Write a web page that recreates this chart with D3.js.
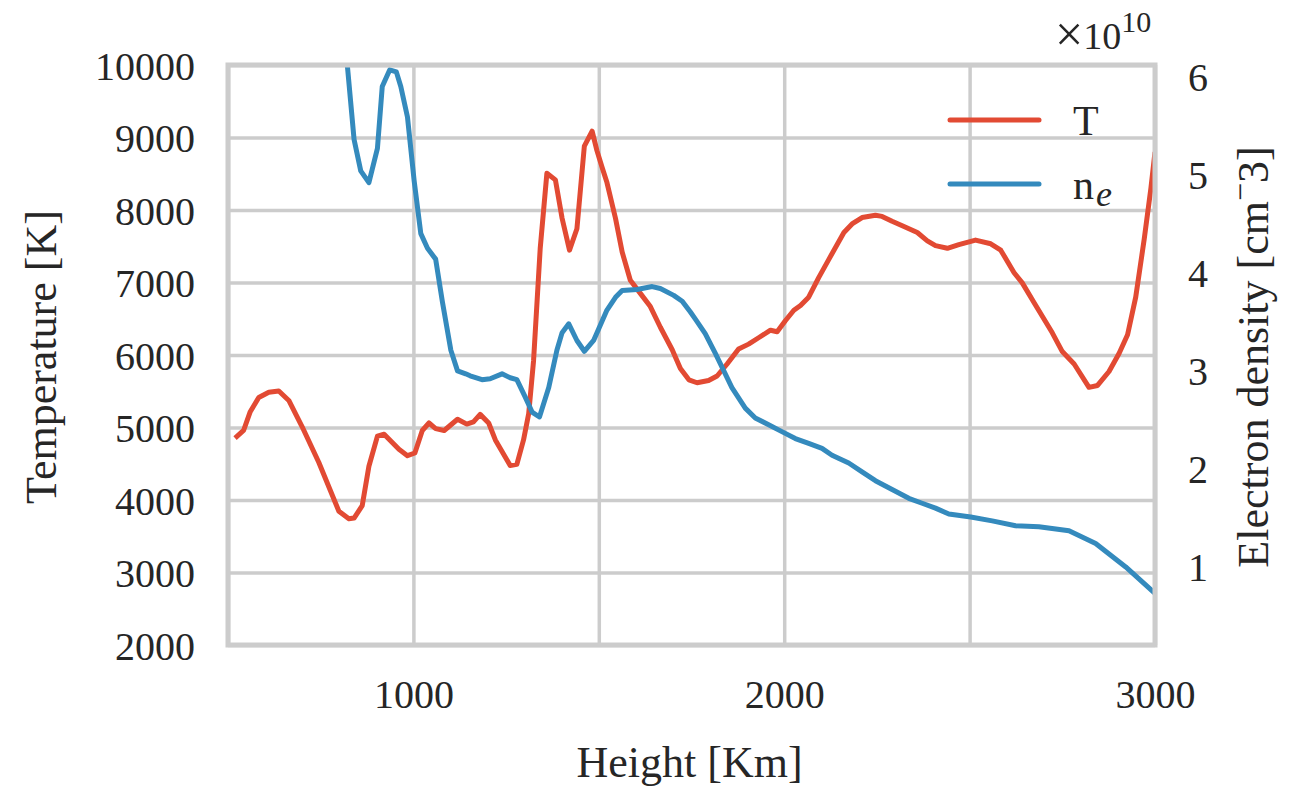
<!DOCTYPE html>
<html>
<head>
<meta charset="utf-8">
<script src="https://cdn.jsdelivr.net/npm/d3@7"></script>
<style>
  body { margin: 0; background: #fff; }
  svg { display: block; }
  text { font-family: "Liberation Serif", "DejaVu Serif", serif; fill: #262626; }
</style>
</head>
<body>
<div id="chart"></div>
<script>
// temperature profile
const t_height = [
  519, 542, 560, 583, 610, 637, 664, 700, 745, 799,
  826, 840, 862, 880, 903, 921, 961, 984, 1004, 1024,
  1042, 1060, 1083, 1119, 1144, 1162, 1180, 1203, 1221, 1261,
  1279, 1297, 1311, 1324, 1342, 1360, 1383, 1401, 1421, 1441,
  1461, 1482, 1495, 1509, 1522, 1545, 1563, 1585, 1612, 1639,
  1666, 1698, 1720, 1743, 1765, 1796, 1819, 1846, 1877, 1904,
  1931, 1963, 1981, 2003, 2026, 2044, 2066, 2093, 2120, 2161,
  2183, 2210, 2246, 2264, 2291, 2323, 2359, 2386, 2408, 2440,
  2471, 2516, 2557, 2584, 2620, 2642, 2674, 2723, 2750, 2782,
  2822, 2845, 2876, 2903, 2926, 2948, 2971, 2989, 3000
]
const t_values = [
  4855, 4959, 5218, 5415, 5487, 5503, 5373, 5010, 4518, 3845,
  3741, 3751, 3922, 4466, 4881, 4907, 4699, 4611, 4648, 4959,
  5062, 4984, 4959, 5114, 5047, 5078, 5181, 5062, 4829, 4477,
  4492, 4829, 5192, 5917, 7472, 8508, 8415, 7886, 7446, 7741,
  8881, 9088, 8819, 8585, 8378, 7886, 7420, 7031, 6850, 6668,
  6383, 6073, 5813, 5658, 5617, 5648, 5710, 5876, 6083, 6150,
  6238, 6342, 6321, 6472, 6617, 6684, 6798, 7067, 7316, 7689,
  7808, 7896, 7927, 7912, 7845, 7772, 7689, 7575, 7508, 7472,
  7523, 7585, 7534, 7446, 7135, 6995, 6720, 6306, 6047, 5876,
  5554, 5580, 5772, 6021, 6280, 6798, 7601, 8301, 8800
]

// electron density, units of 1e10 cm^-3
const ne_height = [
  815, 822, 840, 858, 880, 903, 916, 936, 954, 966,
  984, 1002, 1020, 1038, 1060, 1078, 1101, 1119, 1141, 1153,
  1185, 1207, 1239, 1261, 1279, 1302, 1320, 1340, 1365, 1387,
  1401, 1419, 1441, 1461, 1486, 1522, 1545, 1563, 1603, 1644,
  1666, 1702, 1725, 1747, 1760, 1787, 1814, 1859, 1895, 1922,
  1958, 1999, 2030, 2066, 2102, 2129, 2174, 2210, 2246, 2291,
  2336, 2372, 2408, 2444, 2503, 2561, 2624, 2687, 2768, 2840,
  2921, 3000
]
const ne_values = [
  6.4, 6.11, 5.36, 5.04, 4.92, 5.27, 5.90, 6.07, 6.05, 5.90,
  5.59, 4.94, 4.40, 4.25, 4.14, 3.71, 3.21, 3.00, 2.97, 2.95,
  2.91, 2.92, 2.97, 2.93, 2.91, 2.73, 2.58, 2.53, 2.83, 3.21,
  3.39, 3.48, 3.31, 3.20, 3.31, 3.62, 3.75, 3.82, 3.83, 3.86,
  3.84, 3.77, 3.71, 3.60, 3.53, 3.38, 3.18, 2.83, 2.62, 2.52,
  2.45, 2.37, 2.31, 2.26, 2.21, 2.14, 2.06, 1.97, 1.88, 1.79,
  1.70, 1.65, 1.60, 1.54, 1.51, 1.47, 1.42, 1.41, 1.37, 1.24,
  1.00, 0.73
]

const x_grid = [500, 1000, 1500, 2000, 2500, 3000]
const x_labels = [1000, 2000, 3000]
const t_ticks = [2000, 3000, 4000, 5000, 6000, 7000, 8000, 9000, 10000]
const ne_ticks = [1, 2, 3, 4, 5, 6]

const red = '#E24A33'
const blue = '#348ABD'
const grid_col = '#cccccc'

const W = 1300, H = 787
const m_left = 228, m_right = 1155, m_top = 65, m_bottom = 645

const svg = d3.select('#chart').append('svg')
  .attr('width', W).attr('height', H)

const x = d3.scaleLinear().domain([500, 3000]).range([m_left, m_right])
const yT = d3.scaleLinear().domain([2000, 10000]).range([m_bottom, m_top])
const yN = d3.scaleLinear().domain([0.204, 6.12]).range([m_bottom, m_top])

svg.append('defs').append('clipPath').attr('id', 'plotclip')
  .append('rect')
  .attr('x', m_left).attr('y', m_top)
  .attr('width', m_right-m_left).attr('height', m_bottom-m_top)

// grid
svg.append('g')
  .attr('transform', `translate(0,${m_bottom})`)
  .call(d3.axisBottom(x).tickValues(x_grid).tickSize(-(m_bottom-m_top)).tickFormat(''))
  .call(g => g.select('.domain').remove())
  .call(g => g.selectAll('line').attr('stroke', grid_col).attr('stroke-width', 3.5))

svg.append('g')
  .attr('transform', `translate(${m_left},0)`)
  .call(d3.axisLeft(yT).tickValues(t_ticks).tickSize(-(m_right-m_left)).tickFormat(''))
  .call(g => g.select('.domain').remove())
  .call(g => g.selectAll('line').attr('stroke', grid_col).attr('stroke-width', 3.5))

// tick labels
let tick_font = g => g.selectAll('text')
  .style('font-size', '40px').style('font-family', '"Liberation Serif", serif')

svg.append('g')
  .attr('transform', `translate(0,${m_bottom})`)
  .call(d3.axisBottom(x).tickValues(x_labels).tickSize(0).tickPadding(0).tickFormat(d3.format('d')))
  .call(g => g.select('.domain').remove())
  .call(tick_font)
  .call(g => g.selectAll('text').attr('y', 49).attr('dy', '0.35em'))

svg.append('g')
  .attr('transform', `translate(${m_left},0)`)
  .call(d3.axisLeft(yT).tickValues(t_ticks).tickSize(0).tickPadding(33).tickFormat(d3.format('d')))
  .call(g => g.select('.domain').remove())
  .call(tick_font)
  .call(g => g.selectAll('text').attr('dy', '0.35em'))

svg.append('g')
  .attr('transform', `translate(${m_right},0)`)
  .call(d3.axisRight(yN).tickValues(ne_ticks).tickSize(0).tickPadding(33).tickFormat(d3.format('d')))
  .call(g => g.select('.domain').remove())
  .call(tick_font)
  .call(g => g.selectAll('text').attr('dy', '0.35em'))

// lines
let lineT = d3.line().x(d => x(d[0])).y(d => yT(d[1]))
let lineN = d3.line().x(d => x(d[0])).y(d => yN(d[1]))

let plot = svg.append('g').attr('clip-path', 'url(#plotclip)')
plot.append('path')
  .datum(d3.zip(t_height, t_values))
  .attr('d', lineT)
  .attr('fill', 'none')
  .attr('stroke', red)
  .attr('stroke-width', 5)
  .attr('stroke-linejoin', 'round')
plot.append('path')
  .datum(d3.zip(ne_height, ne_values))
  .attr('d', lineN)
  .attr('fill', 'none')
  .attr('stroke', blue)
  .attr('stroke-width', 5)
  .attr('stroke-linejoin', 'round')

// frame
svg.append('rect')
  .attr('x', m_left).attr('y', m_top)
  .attr('width', m_right-m_left).attr('height', m_bottom-m_top)
  .attr('fill', 'none')
  .attr('stroke', grid_col)
  .attr('stroke-width', 5)

// axis labels
svg.append('text')
  .attr('x', (m_left+m_right)/2 - 2).attr('y', 777)
  .attr('text-anchor', 'middle')
  .style('font-size', '44px')
  .text('Height [Km]')

svg.append('text')
  .attr('transform', `translate(56,${(m_top+m_bottom)/2 + 2}) rotate(-90)`)
  .attr('text-anchor', 'middle')
  .style('font-size', '44px')
  .text('Temperature [K]')

let rlab = svg.append('text')
  .attr('transform', `translate(1268,${(m_top+m_bottom)/2 + 2}) rotate(-90)`)
  .attr('text-anchor', 'middle')
  .style('font-size', '44px')
rlab.append('tspan').text('Electron density [cm')
rlab.append('tspan').attr('dy', -17).style('font-size', '32px').text('\u2212')
rlab.append('tspan').attr('dy', 17).text('3]')

// offset text
let off = svg.append('text')
  .attr('x', 1055).attr('y', 49)
  .style('font-size', '38px')
off.append('tspan').style('font-size', '50px').attr('dy', 2).text('\u00d7')
off.append('tspan').attr('dy', -2).text('10')
off.append('tspan').attr('dy', -17).style('font-size', '30px').text('10')

// legend
const legend_items = [
  {label: 'T', sub: null, color: red, y: 120},
  {label: 'n', sub: 'e', color: blue, y: 184}
]
let leg = svg.append('g')
legend_items.forEach(item => {
  leg.append('line')
    .attr('x1', 950).attr('x2', 1039)
    .attr('y1', item.y).attr('y2', item.y)
    .attr('stroke', item.color)
    .attr('stroke-width', 5)
    .attr('stroke-linecap', 'round')
  let t = leg.append('text')
    .attr('x', 1073).attr('y', item.y + 15)
    .style('font-size', '42px')
  t.append('tspan').text(item.label)
  if (item.sub) {
    t.append('tspan').attr('dy', 7)
      .style('font-size', '36px').style('font-style', 'italic')
      .attr('dx', 2)
      .text(item.sub)
  }
})
</script>
</body>
</html>
